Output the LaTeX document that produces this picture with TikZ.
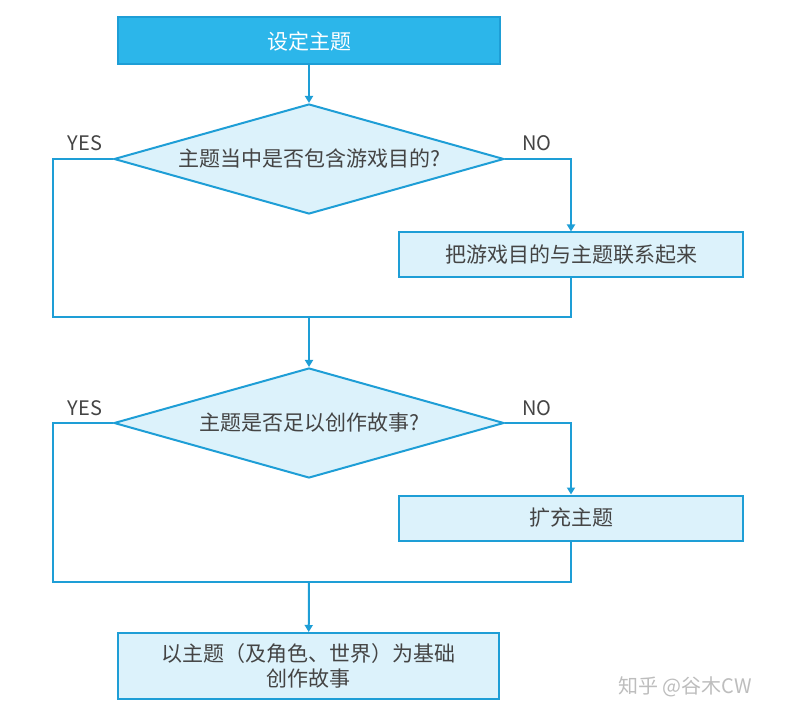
\documentclass[tikz,border=0pt]{standalone}
\usepackage{fontspec}
\setmainfont{Noto Sans CJK SC}
\usepackage{tikz}
\usetikzlibrary{arrows.meta,shapes.geometric}
\definecolor{flowblue}{HTML}{1E9ED6}
\definecolor{headblue}{HTML}{2CB6EA}
\definecolor{paleblue}{HTML}{DCF2FB}
\definecolor{textgray}{HTML}{444444}
\definecolor{markgray}{HTML}{BDBDBD}
\tikzset{%
	startbox/.style = {draw=flowblue, fill=headblue, line width=2pt, rectangle, minimum width=382pt, minimum height=47pt, text=white, text centered},
	process/.style  = {draw=flowblue, fill=paleblue, line width=2pt, rectangle, minimum width=344pt, minimum height=45pt, text=textgray, text centered},
	decision/.style = {draw=flowblue, fill=paleblue, line width=2pt, diamond, aspect=3.55, minimum width=390pt, minimum height=110pt, inner sep=1pt, text=textgray, text centered},
	answer/.style   = {text=textgray, font=\fontsize{20}{24}\selectfont},
	watermark/.style= {text=markgray, font=\fontsize{20}{24}\selectfont},
	line/.style     = {draw=flowblue, line width=2pt},
	arrow/.style    = {line, -{Triangle[length=7pt,width=8pt]}},
}

\begin{document}
\begin{tikzpicture}[x=1pt,y=-1pt,font=\fontsize{21}{25}\selectfont]
		\useasboundingbox (0,0) rectangle (785,719);
		
		\node[startbox] (start) at (309,41) {设定主题};
		\node[decision] (q1) at (309,159) {主题当中是否包含游戏目的?};
		\node[process] (link) at (571,255) {把游戏目的与主题联系起来};
		\node[decision] (q2) at (309,423) {主题是否足以创作故事?};
		\node[process] (expand) at (571,518) {扩充主题};
		\node[process, minimum width=381pt, minimum height=66pt, align=center] (story) at (308.5,666) {以主题（及角色、世界）为基础\\创作故事};
		
		\coordinate (m1) at (309,317);
		\coordinate (m2) at (309,582);
		
		\draw[arrow] (start) -- (q1);
		\draw[arrow] (q1.east) -| (link.north);
		\draw[line] (q1.west) -- ++(-60,0) |- (m1) -| (link.south);
		\draw[arrow] (m1) -- (q2);
		
		\draw[arrow] (q2.east) -| (expand.north);
		\draw[line] (q2.west) -- ++(-60,0) |- (m2) -| (expand.south);
		\draw[arrow] (m2) -- (story);
		
		\node[answer] (yes1) at (85,143) {YES};
		\node[answer] (no1) at (537,143) {NO};
		\node[answer] (yes2) at (85,408) {YES};
		\node[answer] (no2) at (537,408) {NO};
		
		\node[watermark] (mark) at (685,687) {知乎 @谷木CW};
	\end{tikzpicture}
\end{document}
